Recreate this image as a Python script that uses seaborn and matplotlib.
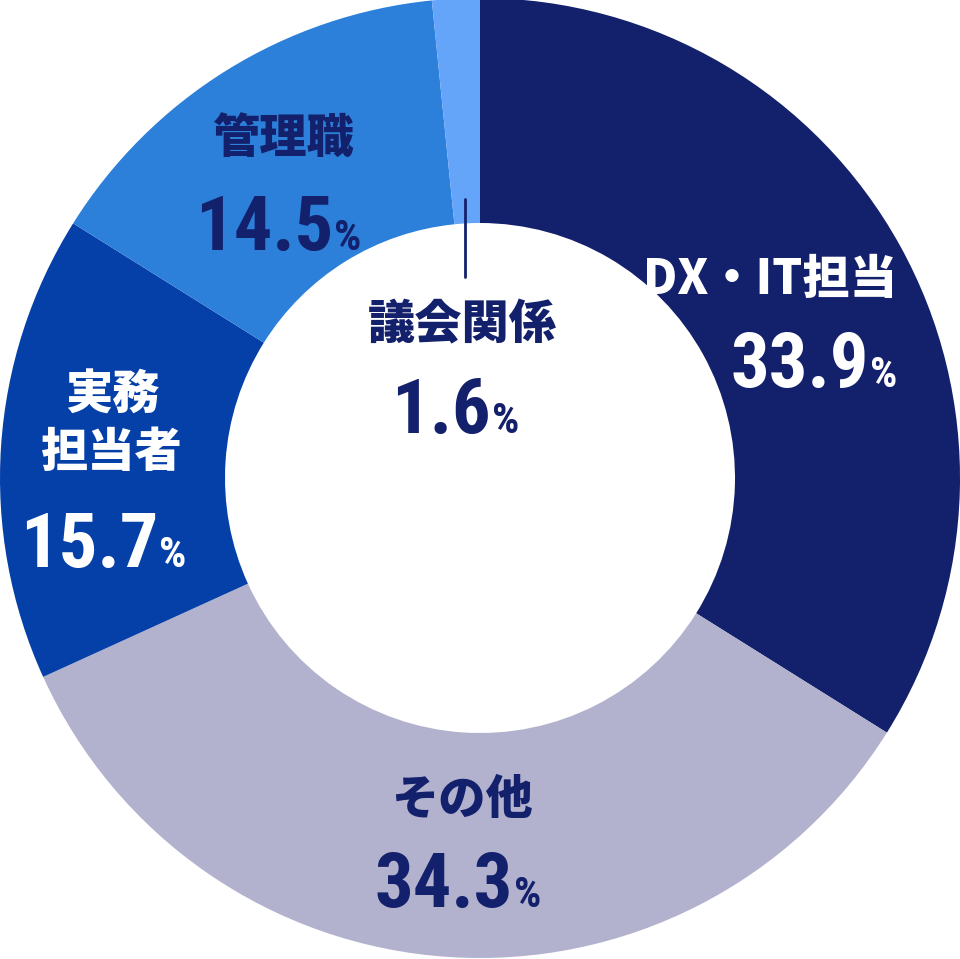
import matplotlib
matplotlib.use("Agg")
import matplotlib.pyplot as plt
from matplotlib import font_manager
import seaborn as sns

# ── Data ───────────────────────────────────────────────────────────────
categories = ["DX・IT担当", "その他", "実務\n担当者", "管理職", "議会関係"]
shares = [33.9, 34.3, 15.7, 14.5, 1.6]
value_labels = ["33.9", "34.3", "15.7", "14.5", "1.6"]

colors = ["#13206B", "#B2B2CE", "#0540A8", "#2C80D9", "#64A5FA"]
text_colors = ["white", "#13206B", "white", "#13206B", "#13206B"]

sns.set_theme(style="white")
plt.rcParams["font.family"] = ["Noto Sans CJK JP", "DejaVu Sans"]

installed = {f.name for f in font_manager.fontManager.ttflist}
num_font = next((f for f in ["Liberation Sans Narrow", "Roboto Condensed",
                             "Liberation Sans", "DejaVu Sans"] if f in installed))

R = 480
fig = plt.figure(figsize=(9.6, 9.59), dpi=100)
ax = fig.add_axes([0, 0, 1, 1])
ax.pie(shares, colors=colors, startangle=90, counterclock=False, radius=R,
       wedgeprops=dict(width=R - 255, linewidth=0))
ax.set_xlim(-480, 480)
ax.set_ylim(-481, 478)
ax.set_aspect("equal")
ax.axis("off")

# label centres / number split point + baseline (pixel offsets from centre)
name_pos = [(290, 198), (-18, -322), (-368, 54), (-197, 339), (-18, 153)]
num_pos = [(389, 91), (33, -429), (-322, -89), (-147, 228), (11, 45)]

for name, val, tc, (nx, ny), (vx, vy) in zip(categories, value_labels,
                                              text_colors, name_pos, num_pos):
    ax.text(nx, ny, name, ha="center", va="center", color=tc, fontsize=34,
            fontweight="heavy", linespacing=1.25)
    ax.text(vx, vy, val, ha="right", va="baseline", color=tc, fontsize=55,
            fontweight="bold", family=num_font)
    ax.text(vx + 1, vy, "%", ha="left", va="baseline", color=tc, fontsize=31,
            fontweight="bold", family=num_font)

# leader line for the thin slice
ax.plot([-15, -15], [279, 201], color="#13206B", lw=2)

fig.savefig("out.png", dpi=100)
